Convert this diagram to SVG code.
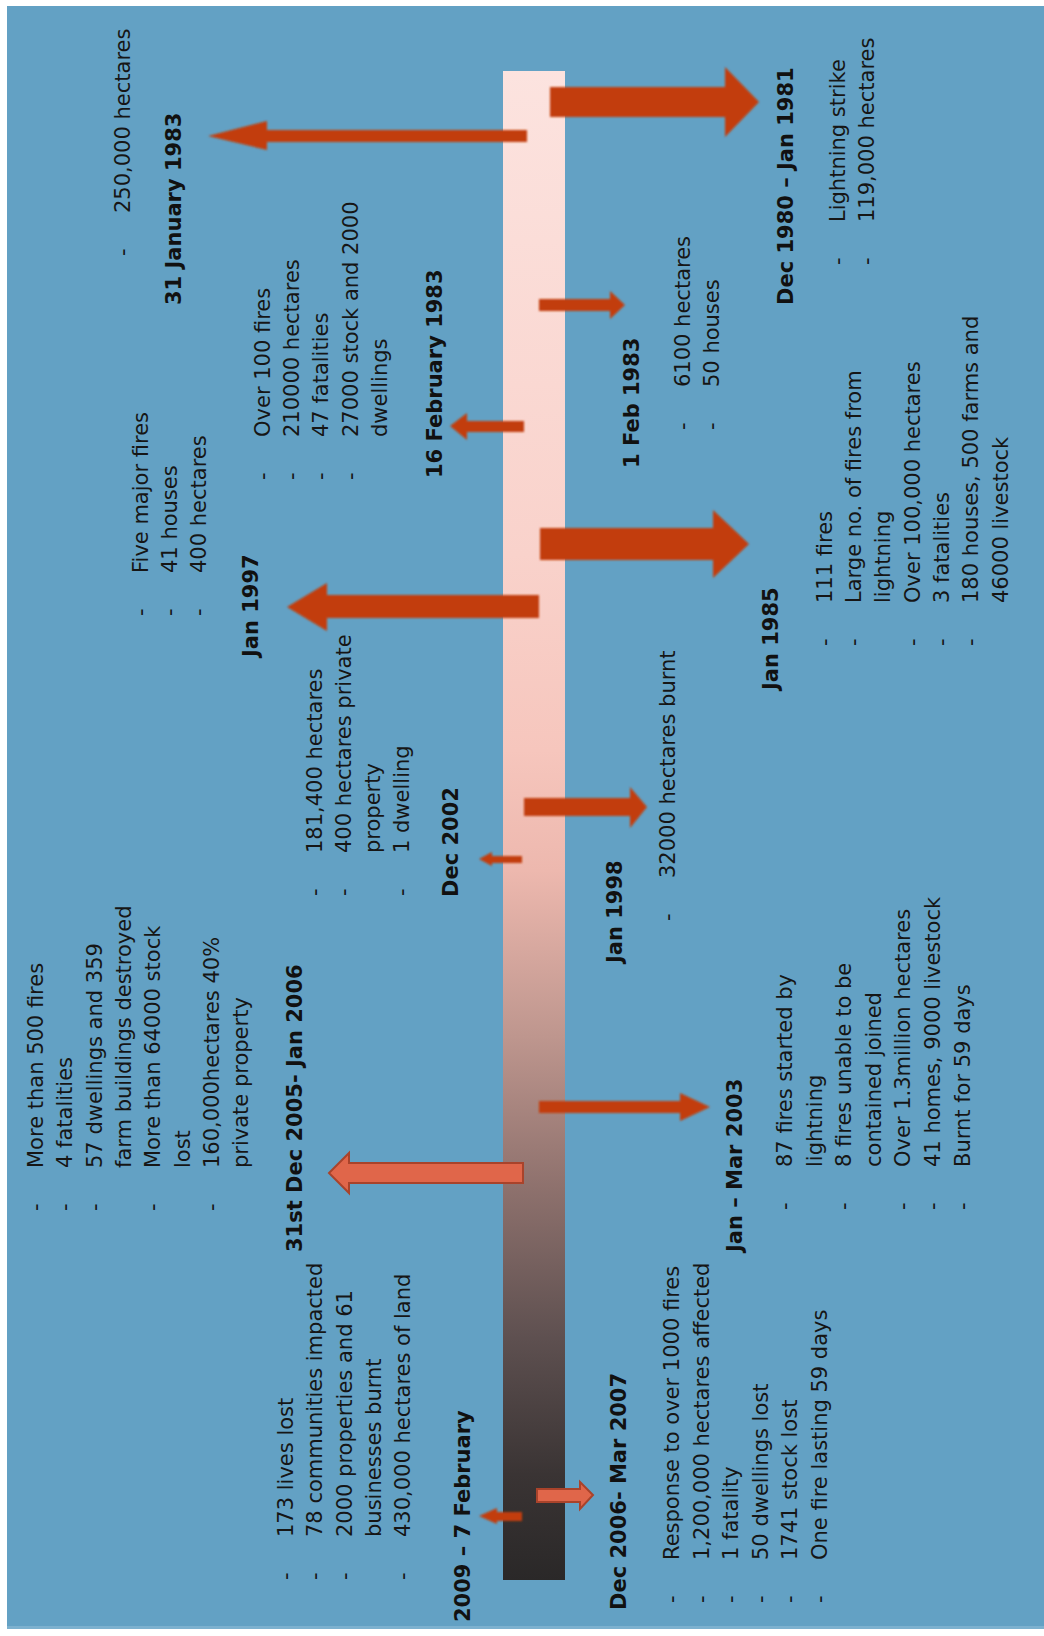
<svg xmlns="http://www.w3.org/2000/svg" width="1044" height="1636" viewBox="0 0 1044 1636">
<defs>
  <linearGradient id="barGrad" x1="0" y1="71" x2="0" y2="1580" gradientUnits="userSpaceOnUse">
    <stop offset="0" stop-color="#FCE3DF"/>
    <stop offset="0.32" stop-color="#F9D2CB"/>
    <stop offset="0.45" stop-color="#F6C6BD"/>
    <stop offset="0.53" stop-color="#EDB8AE"/>
    <stop offset="0.64" stop-color="#BE968E"/>
    <stop offset="0.74" stop-color="#8E716D"/>
    <stop offset="0.84" stop-color="#5E5050"/>
    <stop offset="0.93" stop-color="#3A3434"/>
    <stop offset="1" stop-color="#2A2828"/>
  </linearGradient>
  <filter id="soft" x="-5%" y="-20%" width="110%" height="140%">
    <feGaussianBlur stdDeviation="0.8"/>
  </filter>
  <filter id="glow" x="-5%" y="-50%" width="110%" height="200%">
    <feGaussianBlur stdDeviation="1.6"/>
  </filter>
</defs>
<style>
  .t { font-family: "DejaVu Sans", Verdana, sans-serif; font-size: 21px; fill: #161616; }
  .h { font-weight: bold; fill: #111111; }
  .arrow { fill: #C23E08; filter: url(#soft); }
  .stripe { stroke: #D95A22; stroke-linecap: round; fill: none; filter: url(#glow); }
  .oarrow { fill: #E0664A; stroke: #A9432B; stroke-width: 2; stroke-linejoin: miter; }
</style>

<rect x="0" y="0" width="1044" height="1636" fill="#FFFFFF"/>
<rect x="7" y="6" width="1037" height="1622" fill="#63A1C4"/>
<rect x="7" y="1626" width="1037" height="3" fill="#7DB1CF"/>

<g id="timeline-bar">
  <rect x="503" y="71" width="62" height="1509" fill="url(#barGrad)"/>
</g>

<g id="connectors">
  <g id="arrow-dec1980">
    <polygon class="arrow" points="550,87 725,87 725,67 759,102 725,137 725,117 550,117"/>
    <line class="stripe" x1="560" y1="102" x2="735" y2="102" stroke-width="8"/>
  </g>
  <g id="arrow-31jan1983">
    <polygon class="arrow" points="527,130 267,130 267,121 208,136 267,150 267,142 527,142"/>
    <line class="stripe" x1="518" y1="136" x2="225" y2="136" stroke-width="4"/>
  </g>
  <g id="arrow-1feb1983">
    <polygon class="arrow" points="539,299 610,299 610,291 625,305 610,319 610,311 539,311"/>
  </g>
  <g id="arrow-16feb1983">
    <polygon class="arrow" points="524,421 467,421 467,413 450,426 467,440 467,432 524,432"/>
  </g>
  <g id="arrow-jan1985">
    <polygon class="arrow" points="540,528 713,528 713,510 749,544 713,578 713,560 540,560"/>
    <line class="stripe" x1="550" y1="544" x2="725" y2="544" stroke-width="8"/>
  </g>
  <g id="arrow-jan1997">
    <polygon class="arrow" points="539,595 327,595 327,583 287,607 327,631 327,618 539,618"/>
    <line class="stripe" x1="530" y1="607" x2="305" y2="607" stroke-width="5"/>
  </g>
  <g id="arrow-jan1998">
    <polygon class="arrow" points="524,798 630,798 630,787 647,807 630,828 630,816 524,816"/>
  </g>
  <g id="arrow-dec2002">
    <polygon class="arrow" points="522,856 492,856 492,852 479,859 492,866 492,863 522,863"/>
  </g>
  <g id="arrow-2003">
    <polygon class="arrow" points="539,1101 680,1101 680,1093 710,1107 680,1121 680,1113 539,1113"/>
  </g>
  <g id="arrow-2005">
    <polygon class="oarrow" points="523,1163 349,1163 349,1153 329,1173 349,1193 349,1183 523,1183"/>
  </g>
  <g id="arrow-2006">
    <polygon class="oarrow" points="537,1489 580,1489 580,1482 593,1495 580,1509 580,1502 537,1502"/>
  </g>
  <g id="arrow-2009">
    <polygon class="arrow" points="522,1512 497,1512 497,1508 479,1516 497,1524 497,1521 522,1521"/>
  </g>
</g>

<g transform="translate(0,1636) rotate(-90)">
  <g id="node-31jan1983">
    <text class="t h" x="1331" y="181">31 January 1983</text>
    <text class="t" x="1380" y="130">-</text>
    <text class="t" x="1423" y="130">250,000 hectares</text>
  </g>

  <g id="node-16feb1983">
    <text class="t h" x="1158" y="442">16 February 1983</text>
    <text class="t">
      <tspan x="1156" y="270">-</tspan><tspan x="1199" y="270">Over 100 fires</tspan>
      <tspan x="1156" y="299">-</tspan><tspan x="1199" y="299">210000 hectares</tspan>
      <tspan x="1156" y="328">-</tspan><tspan x="1199" y="328">47 fatalities</tspan>
      <tspan x="1156" y="358">-</tspan><tspan x="1199" y="358">27000 stock and 2000</tspan>
      <tspan x="1199" y="387">dwellings</tspan>
    </text>
  </g>

  <g id="node-jan1997">
    <text class="t h" x="979" y="258">Jan 1997</text>
    <text class="t">
      <tspan x="1020" y="148">-</tspan><tspan x="1063" y="148">Five major fires</tspan>
      <tspan x="1020" y="177">-</tspan><tspan x="1063" y="177">41 houses</tspan>
      <tspan x="1020" y="206">-</tspan><tspan x="1063" y="206">400 hectares</tspan>
    </text>
  </g>

  <g id="node-dec2002">
    <text class="t h" x="739" y="458">Dec 2002</text>
    <text class="t">
      <tspan x="740" y="322">-</tspan><tspan x="783" y="322">181,400 hectares</tspan>
      <tspan x="740" y="351">-</tspan><tspan x="783" y="351">400 hectares private</tspan>
      <tspan x="783" y="380">property</tspan>
      <tspan x="740" y="409">-</tspan><tspan x="783" y="409">1 dwelling</tspan>
    </text>
  </g>

  <g id="node-2005">
    <text class="t h" x="384" y="302">31st Dec 2005- Jan 2006</text>
    <text class="t">
      <tspan x="425" y="43">-</tspan><tspan x="468" y="43">More than 500 fires</tspan>
      <tspan x="425" y="72.3">-</tspan><tspan x="468" y="72.3">4 fatalities</tspan>
      <tspan x="425" y="101.6">-</tspan><tspan x="468" y="101.6">57 dwellings and 359</tspan>
      <tspan x="468" y="130.9">farm buildings destroyed</tspan>
      <tspan x="425" y="160.2">-</tspan><tspan x="468" y="160.2">More than 64000 stock</tspan>
      <tspan x="468" y="189.5">lost</tspan>
      <tspan x="425" y="218.8">-</tspan><tspan x="468" y="218.8">160,000hectares 40%</tspan>
      <tspan x="468" y="248.1">private property</tspan>
    </text>
  </g>

  <g id="node-2009">
    <text class="t h" x="14" y="470">2009 – 7 February</text>
    <text class="t">
      <tspan x="56" y="293">-</tspan><tspan x="99" y="293">173 lives lost</tspan>
      <tspan x="56" y="322">-</tspan><tspan x="99" y="322">78 communities impacted</tspan>
      <tspan x="56" y="351.5">-</tspan><tspan x="99" y="351.5">2000 properties and 61</tspan>
      <tspan x="99" y="381">businesses burnt</tspan>
      <tspan x="56" y="410">-</tspan><tspan x="99" y="410">430,000 hectares of land</tspan>
    </text>
  </g>

  <g id="node-dec1980">
    <text class="t h" x="1331" y="793">Dec 1980 – Jan 1981</text>
    <text class="t">
      <tspan x="1371" y="845">-</tspan><tspan x="1414" y="845">Lightning strike</tspan>
      <tspan x="1371" y="874">-</tspan><tspan x="1414" y="874">119,000 hectares</tspan>
    </text>
  </g>

  <g id="node-1feb1983">
    <text class="t h" x="1168" y="639">1 Feb 1983</text>
    <text class="t">
      <tspan x="1206" y="690">-</tspan><tspan x="1249" y="690">6100 hectares</tspan>
      <tspan x="1206" y="719">-</tspan><tspan x="1249" y="719">50 houses</tspan>
    </text>
  </g>

  <g id="node-jan1985">
    <text class="t h" x="946" y="778">Jan 1985</text>
    <text class="t">
      <tspan x="990" y="832">-</tspan><tspan x="1033" y="832">111 fires</tspan>
      <tspan x="990" y="861">-</tspan><tspan x="1033" y="861">Large no. of fires from</tspan>
      <tspan x="1033" y="890">lightning</tspan>
      <tspan x="990" y="920">-</tspan><tspan x="1033" y="920">Over 100,000 hectares</tspan>
      <tspan x="990" y="949">-</tspan><tspan x="1033" y="949">3 fatalities</tspan>
      <tspan x="990" y="978">-</tspan><tspan x="1033" y="978">180 houses, 500 farms and</tspan>
      <tspan x="1033" y="1008">46000 livestock</tspan>
    </text>
  </g>

  <g id="node-jan1998">
    <text class="t h" x="673" y="622">Jan 1998</text>
    <text class="t">
      <tspan x="715" y="675">-</tspan><tspan x="758" y="675">32000 hectares burnt</tspan>
    </text>
  </g>

  <g id="node-2003">
    <text class="t h" x="384" y="742">Jan – Mar 2003</text>
    <text class="t">
      <tspan x="426" y="792">-</tspan><tspan x="469" y="792">87 fires started by</tspan>
      <tspan x="469" y="822">lightning</tspan>
      <tspan x="426" y="851">-</tspan><tspan x="469" y="851">8 fires unable to be</tspan>
      <tspan x="469" y="881">contained joined</tspan>
      <tspan x="426" y="910">-</tspan><tspan x="469" y="910">Over 1.3million hectares</tspan>
      <tspan x="426" y="940">-</tspan><tspan x="469" y="940">41 homes, 9000 livestock</tspan>
      <tspan x="426" y="970">-</tspan><tspan x="469" y="970">Burnt for 59 days</tspan>
    </text>
  </g>

  <g id="node-2006">
    <text class="t h" x="26" y="626">Dec 2006- Mar 2007</text>
    <text class="t">
      <tspan x="33" y="679">-</tspan><tspan x="76" y="679">Response to over 1000 fires</tspan>
      <tspan x="33" y="708.6">-</tspan><tspan x="76" y="708.6">1,200,000 hectares affected</tspan>
      <tspan x="33" y="738.2">-</tspan><tspan x="76" y="738.2">1 fatality</tspan>
      <tspan x="33" y="767.8">-</tspan><tspan x="76" y="767.8">50 dwellings lost</tspan>
      <tspan x="33" y="797.4">-</tspan><tspan x="76" y="797.4">1741 stock lost</tspan>
      <tspan x="33" y="827">-</tspan><tspan x="76" y="827">One fire lasting 59 days</tspan>
    </text>
  </g>
</g>
</svg>
